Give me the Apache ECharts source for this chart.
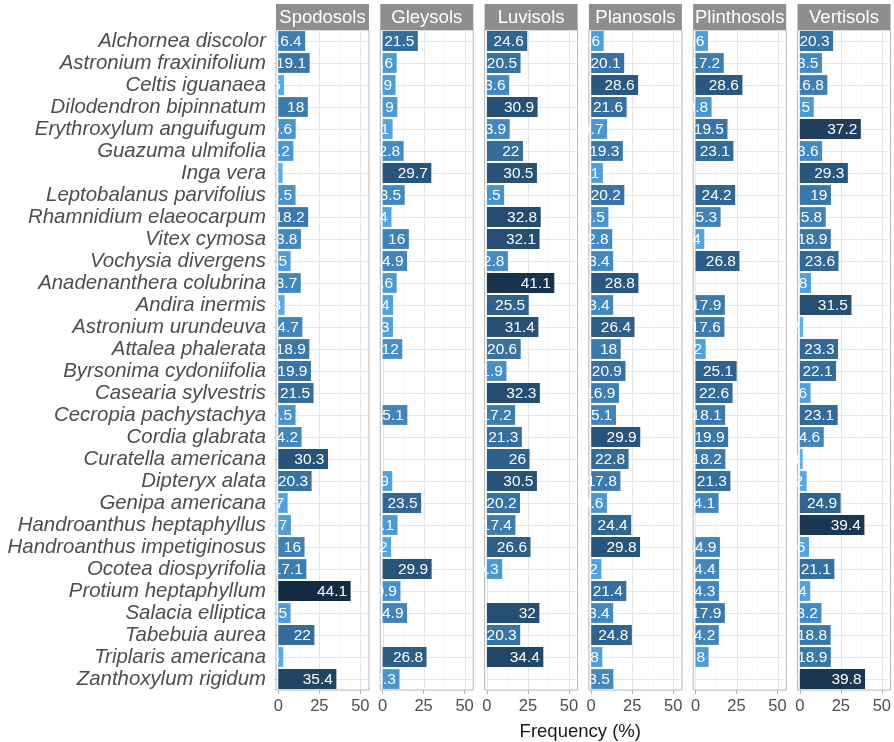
<!DOCTYPE html>
<html>
<head>
<meta charset="utf-8">
<script src="https://cdn.jsdelivr.net/npm/echarts@6/dist/echarts.min.js"></script>
<style>
  html, body { margin: 0; padding: 0; background: #ffffff; }
  #chart { width: 894px; height: 742px; }
</style>
</head>
<body>
<div id="chart"></div>
<script>
// Species, listed top to bottom
const species = [
  'Alchornea discolor', 'Astronium fraxinifolium', 'Celtis iguanaea', 'Dilodendron bipinnatum',
  'Erythroxylum anguifugum', 'Guazuma ulmifolia', 'Inga vera', 'Leptobalanus parvifolius',
  'Rhamnidium elaeocarpum', 'Vitex cymosa', 'Vochysia divergens', 'Anadenanthera colubrina',
  'Andira inermis', 'Astronium urundeuva', 'Attalea phalerata', 'Byrsonima cydoniifolia',
  'Casearia sylvestris', 'Cecropia pachystachya', 'Cordia glabrata', 'Curatella americana',
  'Dipteryx alata', 'Genipa americana', 'Handroanthus heptaphyllus', 'Handroanthus impetiginosus',
  'Ocotea diospyrifolia', 'Protium heptaphyllum', 'Salacia elliptica', 'Tabebuia aurea',
  'Triplaris americana', 'Zanthoxylum rigidum'
];

const soilOrders = ['Spodosols', 'Gleysols', 'Luvisols', 'Planosols', 'Plinthosols', 'Vertisols'];

// Frequency (%) of each species per soil order (null = absent)
const spodosols = [16.4, 19.1, 3.5, 18, 10.6, 9.2, 2.6, 10.5, 18.2, 13.8, 7.5, 13.7, 3.8, 14.7, 18.9,
  19.9, 21.5, 10.5, 14.2, 30.3, 20.3, 5.7, 7.7, 16, 17.1, 44.1, 7.5, 22, 3, 35.4];
const gleysols = [21.5, 8.6, 7.9, 9, 6.1, 12.8, 29.7, 13.5, 5.4, 16, 14.9, 8.6, 6.4, 6.3, 12,
  null, null, 15.1, null, null, 5.9, 23.5, 9.1, 5.2, 29.9, 10.9, 14.9, null, 26.8, 10.3];
const luvisols = [24.6, 20.5, 13.6, 30.9, 13.9, 22, 30.5, 10.5, 32.8, 32.1, 12.8, 41.1, 25.5, 31.4, 20.6,
  11.9, 32.3, 17.2, 21.3, 26, 30.5, 20.2, 17.4, 26.6, 9.3, null, 32, 20.3, 34.4, null];
const planosols = [7.6, 20.1, 28.6, 21.6, 9.7, 19.3, 7.1, 20.2, 10.5, 12.8, 13.4, 28.8, 13.4, 26.4, 18,
  20.9, 16.9, 15.1, 29.9, 22.8, 17.8, 9.6, 24.4, 29.8, 6.2, 21.4, 13.4, 24.8, 6.8, 13.5];
const plinthosols = [7.6, 17.2, 28.6, 9.8, 19.5, 23.1, null, 24.2, 15.3, 5.4, 26.8, null, 17.9, 17.6, 6.2,
  25.1, 22.6, 18.1, 19.9, 18.2, 21.3, 14.1, null, 14.9, 14.4, 14.3, 17.9, 14.2, 8, null];
const vertisols = [20.3, 13.5, 16.8, 8.5, 37.2, 13.6, 29.3, 19, 15.8, 18.9, 23.6, 6.8, 31.5, 2, 23.3,
  22.1, 6.6, 23.1, 14.6, 1.8, 4.2, 24.9, 39.4, 5.6, 21.1, 6.4, 13.2, 18.8, 18.9, 39.8];

const freqBySoil = [spodosols, gleysols, luvisols, planosols, plinthosols, vertisols];

const xTickValues = [0, 25, 50];
const xGridValues = [0, 12.5, 25, 37.5, 50];
const xTitle = 'Frequency (%)';

// ---- layout ----
const PANEL_LEFT = 276;
const PANEL_STEP = 104.3;
const PANEL_W = 93;
const PANEL_TOP = 30;
const PANEL_H = 660;
const STRIP_TOP = 4;
const STRIP_H = 26;
const X_MIN = -1.4;
const X_MAX = 55.3;
const FONT = '"Liberation Sans", Arial, Helvetica, sans-serif';

// ---- sequential fill, interpolated in CIELAB (light = low, dark = high) ----
const LOW_COLOR = '#56B1F7';
const HIGH_COLOR = '#132B43';

function hexToRgb(h) {
  h = h.replace('#', '');
  return [0, 2, 4].map(i => parseInt(h.substr(i, 2), 16));
}
function rgbToLab(rgb) {
  const lin = rgb.map(c => { c /= 255; return c <= 0.04045 ? c / 12.92 : Math.pow((c + 0.055) / 1.055, 2.4); });
  const X = (0.4124564 * lin[0] + 0.3575761 * lin[1] + 0.1804375 * lin[2]) / 0.95047;
  const Y = (0.2126729 * lin[0] + 0.7151522 * lin[1] + 0.0721750 * lin[2]);
  const Z = (0.0193339 * lin[0] + 0.1191920 * lin[1] + 0.9503041 * lin[2]) / 1.08883;
  const f = t => t > 0.008856 ? Math.cbrt(t) : 7.787 * t + 16 / 116;
  const fx = f(X), fy = f(Y), fz = f(Z);
  return [116 * fy - 16, 500 * (fx - fy), 200 * (fy - fz)];
}
function labToRgb(lab) {
  const fy = (lab[0] + 16) / 116, fx = fy + lab[1] / 500, fz = fy - lab[2] / 200;
  const finv = t => t * t * t > 0.008856 ? t * t * t : (t - 16 / 116) / 7.787;
  const X = finv(fx) * 0.95047, Y = finv(fy), Z = finv(fz) * 1.08883;
  const r = 3.2404542 * X - 1.5371385 * Y - 0.4985314 * Z;
  const g = -0.9692660 * X + 1.8760108 * Y + 0.0415560 * Z;
  const b = 0.0556434 * X - 0.2040259 * Y + 1.0572252 * Z;
  const gam = c => {
    c = c <= 0.0031308 ? 12.92 * c : 1.055 * Math.pow(c, 1 / 2.4) - 0.055;
    return Math.max(0, Math.min(255, Math.round(c * 255)));
  };
  return 'rgb(' + gam(r) + ',' + gam(g) + ',' + gam(b) + ')';
}
const labLow = rgbToLab(hexToRgb(LOW_COLOR));
const labHigh = rgbToLab(hexToRgb(HIGH_COLOR));
const allValues = [].concat(...freqBySoil).filter(v => v != null);
const vMin = Math.min(...allValues);
const vMax = Math.max(...allValues);
function fillFor(v) {
  const t = (v - vMin) / (vMax - vMin);
  return labToRgb(labLow.map((c, i) => c + (labHigh[i] - c) * t));
}

// ---- renderers ----
function renderVGrid(params, api) {
  const cs = params.coordSys;
  const x = Math.round(api.coord([api.value(0), 0])[0]) + 0.5;
  const minor = api.value(1) === 1;
  return {
    type: 'line',
    shape: { x1: x, y1: cs.y, x2: x, y2: cs.y + cs.height },
    style: { stroke: minor ? '#f3f3f3' : '#e6e6e6', lineWidth: minor ? 0.6 : 1 }
  };
}
function renderHGrid(params, api) {
  const cs = params.coordSys;
  const y = Math.round(api.coord([0, api.value(0)])[1]) + 0.5;
  return {
    type: 'line',
    shape: { x1: cs.x, y1: y, x2: cs.x + cs.width, y2: y },
    style: { stroke: '#e8e8e8', lineWidth: 1 }
  };
}
function renderBar(params, api) {
  const v = api.value(0);
  const idx = api.value(1);
  const p0 = api.coord([0, idx]);
  const p1 = api.coord([v, idx]);
  const h = api.size([0, 1])[1] * 0.9;
  return {
    type: 'group',
    children: [
      {
        type: 'rect',
        shape: { x: p0[0], y: p0[1] - h / 2, width: p1[0] - p0[0], height: h },
        style: { fill: fillFor(v) }
      },
      {
        type: 'text',
        style: {
          text: String(v), x: p1[0] - 3.5, y: p0[1] + 0.5,
          align: 'right', verticalAlign: 'middle',
          fill: '#ffffff', font: '15.5px ' + FONT
        }
      }
    ]
  };
}

// ---- build option ----
const grids = [], xAxes = [], yAxes = [], series = [], graphics = [];

soilOrders.forEach((soil, k) => {
  const left = PANEL_LEFT + k * PANEL_STEP;
  grids.push({
    left: left, top: PANEL_TOP, width: PANEL_W, height: PANEL_H,
    show: true, borderColor: '#b5b5b5', borderWidth: 1, backgroundColor: '#ffffff',
    containLabel: false
  });
  xAxes.push({
    type: 'value', gridIndex: k, min: X_MIN, max: X_MAX,
    axisLine: { show: false },
    splitLine: { show: false },
    axisTick: { show: true, customValues: xTickValues, length: 4, lineStyle: { color: '#b5b5b5' } },
    axisLabel: { customValues: xTickValues, color: '#4d4d4d', fontSize: 16.5, fontFamily: FONT, margin: 8 }
  });
  yAxes.push({
    type: 'category', gridIndex: k, data: species, inverse: true,
    axisLine: { show: false },
    axisTick: { show: k === 0, length: 4, alignWithLabel: true, interval: 0, lineStyle: { color: '#b5b5b5' } },
    axisLabel: {
      show: k === 0, interval: 0, color: '#4d4d4d', fontSize: 20.4, fontStyle: 'italic',
      fontFamily: FONT, margin: 10
    },
    splitLine: { show: false }
  });

  series.push({
    type: 'custom', xAxisIndex: k, yAxisIndex: k, silent: true,
    renderItem: renderHGrid, encode: { x: -1, y: 0 },
    data: species.map((s, i) => [i])
  });
  series.push({
    type: 'custom', xAxisIndex: k, yAxisIndex: k, silent: true,
    renderItem: renderVGrid, encode: { x: 0 },
    data: xGridValues.map(v => [v, xTickValues.indexOf(v) === -1 ? 1 : 0])
  });
  series.push({
    type: 'custom', xAxisIndex: k, yAxisIndex: k, silent: true, clip: true,
    renderItem: renderBar, encode: { x: 0, y: 1 },
    data: freqBySoil[k].map((v, i) => v == null ? null : [v, i]).filter(d => d)
  });

  // facet strip
  graphics.push({
    type: 'rect', silent: true,
    shape: { x: left, y: STRIP_TOP, width: PANEL_W, height: STRIP_H },
    style: { fill: '#8e8e8e' }
  });
  graphics.push({
    type: 'text', silent: true,
    style: {
      text: soil, x: left + PANEL_W / 2, y: STRIP_TOP + STRIP_H / 2 + 1,
      align: 'center', verticalAlign: 'middle', fill: '#ffffff', font: '18.5px ' + FONT
    }
  });
});

const panelsRight = PANEL_LEFT + 5 * PANEL_STEP + PANEL_W;
graphics.push({
  type: 'text', silent: true,
  style: {
    text: xTitle, x: (PANEL_LEFT + panelsRight) / 2 - 3, y: 732,
    align: 'center', verticalAlign: 'middle', fill: '#1a1a1a', font: '18.5px ' + FONT
  }
});

const chart = echarts.init(document.getElementById('chart'), null, { renderer: 'canvas' });
chart.setOption({
  animation: false,
  backgroundColor: '#ffffff',
  grid: grids,
  xAxis: xAxes,
  yAxis: yAxes,
  series: series,
  graphic: graphics
});
</script>
</body>
</html>
